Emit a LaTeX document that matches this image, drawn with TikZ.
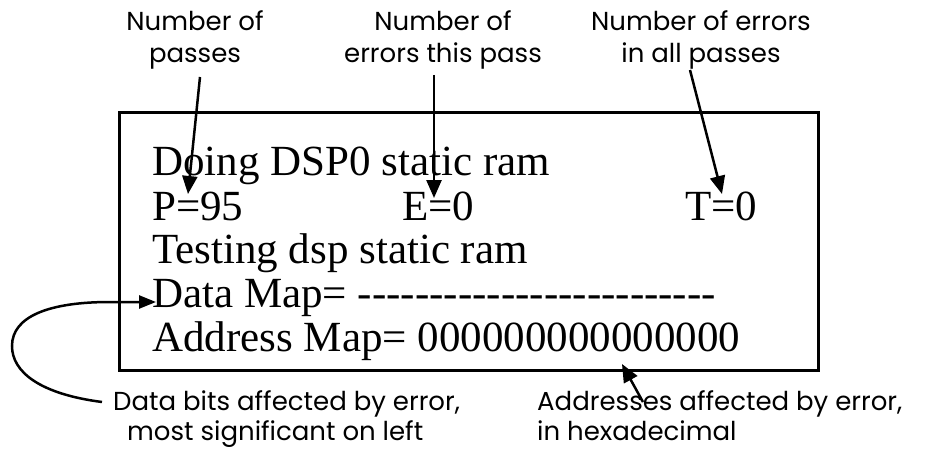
\documentclass[tikz,border=0pt]{standalone}
\usepackage{fontspec}
\setmainfont{Liberation Serif}
\newfontfamily\labelfont{Poppins}
\usetikzlibrary{arrows.meta}
\tikzset{
  screen/.style={anchor=base west, inner sep=0pt, font=\fontsize{43}{44}\selectfont},
  note/.style={inner sep=0pt, font=\labelfont\fontsize{26}{32}\selectfont, align=center},
  notel/.style={anchor=base west, inner sep=0pt, font=\labelfont\fontsize{26}{30}\selectfont, align=left},
  pointer/.style={line width=2.5pt, -{Triangle[length=18pt,width=15pt]}},
  frame/.style={line width=3pt}
}
\begin{document}
\begin{tikzpicture}[x=1pt,y=-1pt]
\useasboundingbox (0,0) rectangle (932,452);

% display frame
\draw[frame] (119,112) rectangle (818,370);

% screen text
\node[screen] (l1) at (152,175) {Doing DSP0 static ram};
\node[screen] (pval) at (152,220) {P=95};
\node[screen] (eval) at (402,220) {E=0};
\node[screen] (tval) at (685,220) {T=0};
\node[screen] (l3) at (152,263) {Testing dsp static ram};
\node[screen] (dmap) at (152,307) {Data Map= -{}-{}-{}-{}-{}-{}-{}-{}-{}-{}-{}-{}-{}-{}-{}-{}-{}-{}-{}-{}-{}-{}-{}-{}-};
\node[screen] (amap) at (152,351) {Address Map= 000000000000000};

% annotations (base anchor sits on the last line)
\node[note, anchor=base] (n1) at (195,63) {Number of\\passes};
\node[note, anchor=base] (n2) at (443,63) {Number of\\errors this pass};
\node[note, anchor=base] (n3) at (701,63) {Number of errors\\in all passes};
\node[notel] (n4) at (113,440) {Data bits affected by error,\\\hspace*{14pt}most significant on left};
\node[notel] (n5) at (537,440) {Addresses affected by error,\\in hexadecimal};

% arrow end points
\coordinate (a1s) at (200,77);  \coordinate (a1e) at (188,194);
\coordinate (a2s) at (434,75);  \coordinate (a2e) at (434,198);
\coordinate (a3s) at (690,70);  \coordinate (a3e) at (722,194);
\coordinate (a4s) at (102,402); \coordinate (a4e) at (156,302);
\coordinate (a5s) at (643,402); \coordinate (a5e) at (622,364);

\draw[pointer] (a1s) -- (a1e);
\draw[pointer] (a2s) -- (a2e);
\draw[pointer] (a3s) -- (a3e);
\draw[pointer, -{Triangle[length=17pt,width=13pt]}] (a4s) .. controls (40,394) and (12,372) .. (12,346)
  .. controls (12,316) and (50,302) .. (110,302) -- (a4e);
\draw[pointer] (a5s) -- (a5e);
\end{tikzpicture}
\end{document}
